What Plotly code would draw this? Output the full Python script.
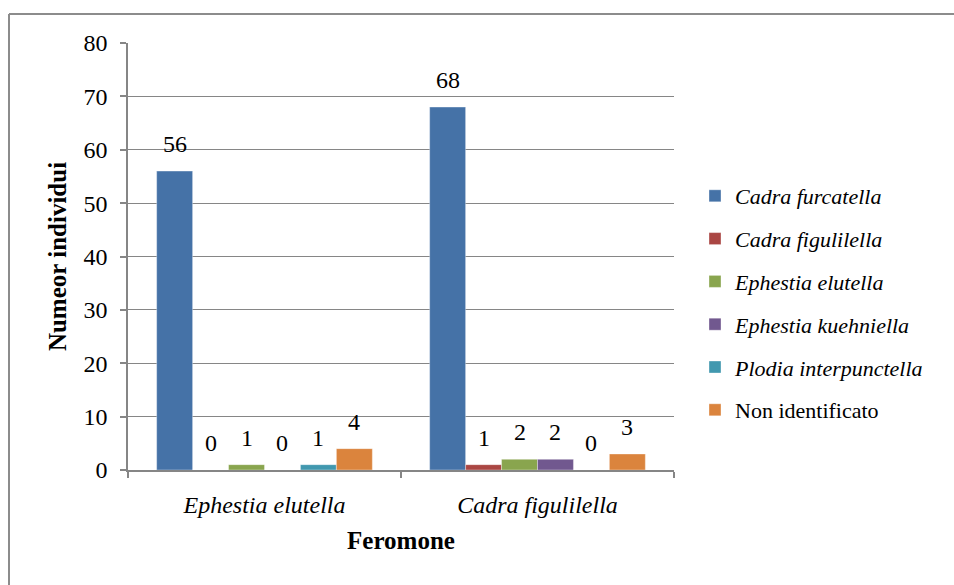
import plotly.graph_objects as go

categories = ["Ephestia elutella", "Cadra figulilella"]
series_names = ["Cadra furcatella", "Cadra figulilella", "Ephestia elutella",
                "Ephestia kuehniella", "Plodia interpunctella", "Non identificato"]
series_italic = [True, True, True, True, True, False]
values_cadra_furcatella = [56, 68]
values_cadra_figulilella = [0, 1]
values_ephestia_elutella = [1, 2]
values_ephestia_kuehniella = [0, 2]
values_plodia_interpunctella = [1, 0]
values_non_identificato = [4, 3]
series_values = [values_cadra_furcatella, values_cadra_figulilella, values_ephestia_elutella,
                 values_ephestia_kuehniella, values_plodia_interpunctella, values_non_identificato]
colors = ["#4572A7", "#AA4643", "#89A54E", "#71588F", "#4198AF", "#DB843D"]
y_ticks = [0, 10, 20, 30, 40, 50, 60, 70, 80]

FONT = "Liberation Serif"
W, H = 954, 585
ML, MR, MT, MB = 128, 280, 43, 115
BARGAP = 0.21

fig = go.Figure()
for i, (name, vals) in enumerate(zip(series_names, series_values)):
    label = f"<i>{name}</i>" if series_italic[i] else name
    fig.add_trace(go.Bar(
        x=categories, y=vals, name=label,
        marker=dict(color=colors[i], line=dict(color="rgba(255,255,255,0.35)", width=1)),
        legendgroup=f"g{i}",
    ))

# data labels above bars
plot_w = W - ML - MR
bw = (1 - BARGAP) * plot_w / len(categories) / len(series_names)
n = len(series_names)
for i, vals in enumerate(series_values):
    for cat, v in zip(categories, vals):
        fig.add_annotation(
            x=cat, y=v, xref="x", yref="y", text=str(v), showarrow=False,
            xshift=(i - (n - 1) / 2) * bw, yshift=12, yanchor="bottom",
            font=dict(family=FONT, size=24, color="black"),
        )

gray = "#868686"
fig.update_layout(
    width=W, height=H,
    margin=dict(l=ML, r=MR, t=MT, b=MB, autoexpand=False),
    plot_bgcolor="white", paper_bgcolor="white",
    barmode="group", bargap=BARGAP, bargroupgap=0,
    font=dict(family=FONT, color="black"),
    showlegend=True,
    legend=dict(
        x=(695 - ML) / plot_w, xanchor="left",
        y=(H - MB - 175) / (H - MT - MB), yanchor="top",
        font=dict(family=FONT, size=22, color="black"),
        traceorder="grouped", tracegroupgap=11.2,
        bgcolor="rgba(0,0,0,0)",
    ),
    xaxis=dict(
        tickvals=categories, ticktext=[f"<i>{c}</i>" for c in categories],
        tickfont=dict(family=FONT, size=24, color="black"),
        showline=True, linecolor=gray, linewidth=1.5,
        ticks="outside", tickson="boundaries", ticklen=6, tickcolor=gray, tickwidth=1.5,
        ticklabelstandoff=12,
        title=dict(text="<b>Feromone</b>", font=dict(family=FONT, size=25, color="black"), standoff=15),
        showgrid=False,
    ),
    yaxis=dict(
        range=[0, 80], tickvals=y_ticks,
        tickfont=dict(family=FONT, size=24, color="black"),
        showline=True, linecolor=gray, linewidth=1.5,
        ticks="outside", ticklen=6, tickcolor=gray, tickwidth=1.5,
        ticklabelstandoff=8,
        showgrid=True, gridcolor=gray, gridwidth=1.3,
        zeroline=False,
        title=dict(text="<b>Numeor individui</b>", font=dict(family=FONT, size=25, color="black"), standoff=10),
    ),
)

# outer chart border (top and left edges visible)
bx = (9 - ML) / plot_w
by = (H - MB - 14) / (H - MT - MB)
fig.add_shape(type="line", xref="paper", yref="paper", x0=bx, x1=(W + 5 - ML) / plot_w, y0=by, y1=by,
              line=dict(color="#8c8c8c", width=2))
fig.add_shape(type="line", xref="paper", yref="paper", x0=bx, x1=bx, y0=by, y1=-(MB + 5) / (H - MT - MB),
              line=dict(color="#8c8c8c", width=2))

fig.write_html("out.html", config={"displayModeBar": False},
               post_script="document.body.style.margin='0';")
